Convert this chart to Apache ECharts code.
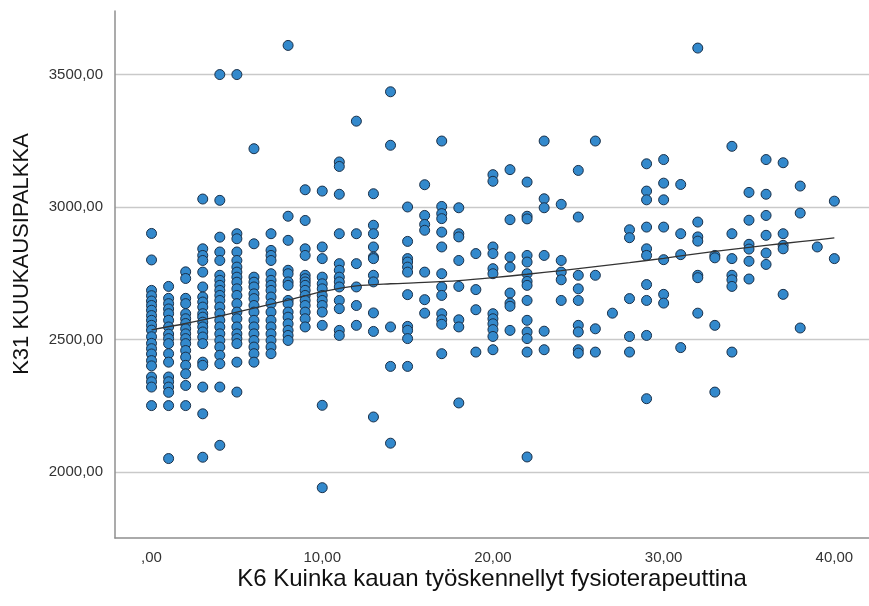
<!DOCTYPE html>
<html>
<head>
<meta charset="utf-8">
<script src="https://cdn.jsdelivr.net/npm/echarts@6/dist/echarts.min.js"></script>
<style>
html,body{margin:0;padding:0;background:#fff;}
#chart{width:869px;height:606px;}
</style>
</head>
<body>
<div id="chart"></div>
<script>
// Years worked (x) -> monthly salaries (y), one array per year
const y00 = [2900, 2800, 2685, 2665, 2645, 2628, 2610, 2590, 2572, 2553, 2535, 2510, 2485, 2465, 2445, 2420, 2400, 2358, 2340, 2320, 2250];
const y01 = [2700, 2655, 2635, 2615, 2597, 2572, 2547, 2520, 2503, 2484, 2446, 2414, 2358, 2340, 2320, 2300, 2250, 2050];
const y02 = [2755, 2730, 2655, 2635, 2597, 2578, 2560, 2540, 2521, 2503, 2484, 2458, 2433, 2402, 2370, 2326, 2250];
const y03 = [3030, 2842, 2817, 2798, 2754, 2698, 2660, 2641, 2622, 2597, 2584, 2565, 2547, 2528, 2509, 2484, 2414, 2402, 2320, 2219, 2055];
const y04 = [3500, 3025, 2886, 2830, 2798, 2742, 2723, 2704, 2685, 2666, 2647, 2622, 2597, 2572, 2547, 2521, 2496, 2471, 2440, 2408, 2320, 2100];
const y05 = [3500, 2899, 2880, 2830, 2798, 2773, 2754, 2735, 2716, 2691, 2666, 2635, 2603, 2578, 2547, 2521, 2503, 2484, 2414, 2301];
const y06 = [3220, 2861, 2735, 2716, 2698, 2672, 2654, 2628, 2603, 2572, 2547, 2521, 2496, 2471, 2446, 2414];
const y07 = [2899, 2836, 2817, 2798, 2748, 2723, 2704, 2685, 2660, 2635, 2603, 2572, 2547, 2521, 2496, 2471, 2446];
const y08 = [3610, 2965, 2874, 2761, 2748, 2717, 2704, 2647, 2635, 2603, 2584, 2559, 2534, 2515, 2496];
const y09 = [3065, 2949, 2842, 2817, 2742, 2729, 2717, 2704, 2685, 2666, 2647, 2628, 2603, 2578, 2547];
const y10 = [3060, 2849, 2805, 2735, 2710, 2691, 2666, 2647, 2628, 2603, 2553, 2251, 1940];
const y11 = [3170, 3153, 3048, 2899, 2786, 2761, 2735, 2717, 2698, 2647, 2616, 2534, 2515];
const y12 = [3324, 2899, 2786, 2698, 2628, 2553];
const y13 = [3050, 2931, 2899, 2849, 2811, 2805, 2742, 2717, 2600, 2530, 2207];
const y14 = [3435, 3233, 2547, 2398, 2108];
const y15 = [3000, 2870, 2805, 2792, 2773, 2754, 2669, 2549, 2534, 2503, 2398];
const y16 = [3084, 2968, 2934, 2912, 2754, 2650, 2599];
const y17 = [3249, 3002, 2975, 2956, 2905, 2849, 2748, 2698, 2666, 2597, 2574, 2557, 2446];
const y18 = [2997, 2899, 2887, 2798, 2700, 2574, 2547, 2260];
const y19 = [2824, 2688, 2612, 2452];
const y20 = [3122, 3097, 2849, 2824, 2767, 2748, 2597, 2578, 2559, 2537, 2511, 2461];
const y21 = [3141, 2952, 2811, 2773, 2675, 2637, 2625, 2534];
const y22 = [3094, 2965, 2955, 2817, 2792, 2748, 2719, 2704, 2647, 2572, 2528, 2503, 2452, 2056];
const y23 = [3249, 3031, 2997, 2817, 2531, 2461];
const y24 = [3010, 2798, 2754, 2725, 2647];
const y25 = [3138, 2962, 2742, 2691, 2647, 2553, 2528, 2461, 2448];
const y26 = [3249, 2742, 2540, 2452];
const y27 = [2599];
const y28 = [2914, 2884, 2654, 2511, 2452];
const y29 = [3163, 3060, 3027, 2924, 2842, 2817, 2707, 2647, 2515, 2276];
const y30 = [3179, 3090, 3027, 2924, 2801, 2670, 2637];
const y31 = [3085, 2899, 2820, 2469];
const y32 = [3600, 2943, 2887, 2871, 2742, 2733, 2599];
const y33 = [2817, 2808, 2553, 2301];
const y34 = [3229, 2899, 2805, 2742, 2725, 2700, 2452];
const y35 = [3055, 2950, 2859, 2841, 2795, 2728];
const y36 = [3179, 3048, 2968, 2893, 2826, 2783];
const y37 = [3167, 2899, 2855, 2842, 2670];
const y38 = [3079, 2977, 2543];
const y39 = [2849];
const y40 = [3022, 2805];
const columns = [y00,y01,y02,y03,y04,y05,y06,y07,y08,y09,y10,y11,y12,y13,y14,y15,y16,y17,y18,y19,y20,
                 y21,y22,y23,y24,y25,y26,y27,y28,y29,y30,y31,y32,y33,y34,y35,y36,y37,y38,y39,y40];

// Fit line
const fitX = [0, 2, 4, 6, 8, 10, 12, 14, 16, 18, 20, 22, 24, 26, 28, 30, 32, 34, 36, 38, 40];
const fitY = [2536, 2560, 2588, 2618, 2648, 2680, 2702, 2710, 2715, 2722, 2733, 2746, 2760, 2775, 2790, 2806, 2824, 2840, 2855, 2869, 2883];

const xTitle = 'K6 Kuinka kauan työskennellyt fysioterapeuttina';
const yTitle = 'K31 KUUKAUSIPALKKA';

const points = [];
columns.forEach((col, x) => col.forEach(v => points.push([x, v])));
const fitData = fitX.map((x, i) => [x, fitY[i]]);

const fmt = v => {
  const s = Number(v).toFixed(2).replace('.', ',');
  return s.startsWith('0,') ? s.slice(1) : s;
};

const FONT = 'Liberation Sans, Arial, sans-serif';
const chart = echarts.init(document.getElementById('chart'), null, {renderer: 'canvas'});
chart.setOption({
  animation: false,
  backgroundColor: '#ffffff',
  grid: {left: 115, right: 0, top: 11, bottom: 68, containLabel: false},
  xAxis: {
    type: 'value',
    min: -2.14, max: 42.03,
    splitNumber: 5,
    axisLine: {show: true, onZero: false, lineStyle: {color: '#8f8f8f', width: 1.5}},
    axisTick: {show: false},
    splitLine: {show: false},
    axisLabel: {
      showMinLabel: false, showMaxLabel: false,
      margin: 12, color: '#333', fontSize: 15, fontFamily: FONT,
      formatter: v => (Math.abs(v % 10) < 1e-9 ? fmt(v) : '')
    }
  },
  yAxis: {
    type: 'value',
    min: 1750, max: 3740, interval: 250,
    axisLine: {show: true, onZero: false, lineStyle: {color: '#8f8f8f', width: 1.5}},
    axisTick: {show: false},
    splitLine: {show: true, lineStyle: {color: ['rgba(0,0,0,0)', '#c9c9c9'], width: 1.3}},
    axisLabel: {
      showMinLabel: false, showMaxLabel: false,
      margin: 12, color: '#333', fontSize: 15, fontFamily: FONT,
      formatter: v => (v % 500 === 0 ? fmt(v) : '')
    }
  },
  graphic: [
    {type: 'text', z: 10, x: 492, y: 579,
     style: {text: xTitle, font: '24px ' + FONT, fill: '#111', textAlign: 'center', textVerticalAlign: 'middle'}},
    {type: 'text', z: 10, x: 22, y: 254, rotation: Math.PI / 2,
     style: {text: yTitle, font: '22px ' + FONT, fill: '#111', textAlign: 'center', textVerticalAlign: 'middle'}}
  ],
  series: [
    {
      type: 'scatter',
      data: points,
      symbol: 'circle',
      symbolSize: 10,
      itemStyle: {color: '#3389cc', borderColor: '#1a3049', borderWidth: 1, opacity: 1},
      z: 2
    },
    {
      type: 'line',
      data: fitData,
      smooth: 0.3,
      showSymbol: false,
      symbol: 'none',
      lineStyle: {color: '#333333', width: 1.3},
      z: 3
    }
  ]
});
</script>
</body>
</html>
